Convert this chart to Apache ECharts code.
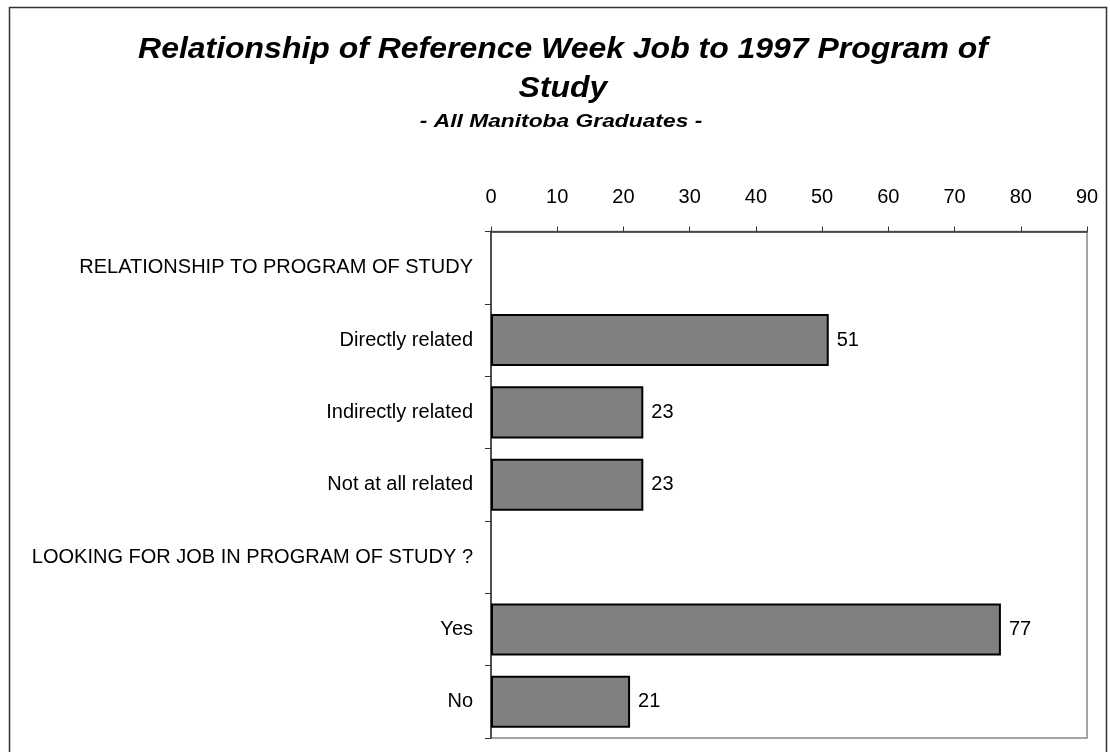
<!DOCTYPE html>
<html>
<head>
<meta charset="utf-8">
<script src="https://cdn.jsdelivr.net/npm/echarts@6/dist/echarts.min.js"></script>
<style>
html,body{margin:0;padding:0;background:#fff;}
#c{width:1110px;height:752px;}
</style>
</head>
<body>
<div id="c"></div>
<script>
var categories = [
  'RELATIONSHIP TO PROGRAM OF STUDY',
  'Directly related',
  'Indirectly related',
  'Not at all related',
  'LOOKING FOR JOB IN PROGRAM OF STUDY ?',
  'Yes',
  'No'
];
var values = [null, 51, 23, 23, null, 77, 21];
var xTicks = [0, 10, 20, 30, 40, 50, 60, 70, 80, 90];
var titleLine1 = 'Relationship of Reference Week Job to 1997 Program of';
var titleLine2 = 'Study';
var subtitle = '- All Manitoba Graduates -';

var chart = echarts.init(document.getElementById('c'), null, {renderer: 'canvas'});
var font = 'Arial, "Liberation Sans", sans-serif';
chart.setOption({
  animation: false,
  backgroundColor: '#fff',
  graphic: [
    {type: 'rect', shape: {x: 9.5, y: 7.5, width: 1097, height: 760},
     style: {fill: null, stroke: '#333', lineWidth: 1.5}, silent: true, z: 0},
    {type: 'text', x: 563, y: 50, scaleX: 1.065, style: {text: titleLine1, font: 'italic bold 30px ' + font,
     fill: '#000', textAlign: 'center', textVerticalAlign: 'middle'}},
    {type: 'text', x: 563, y: 89, scaleX: 1.065, style: {text: titleLine2, font: 'italic bold 30px ' + font,
     fill: '#000', textAlign: 'center', textVerticalAlign: 'middle'}},
    {type: 'text', x: 561, y: 122, scaleX: 1.2, style: {text: subtitle, font: 'italic bold 19px ' + font,
     fill: '#000', textAlign: 'center', textVerticalAlign: 'middle'}}
  ],
  grid: {left: 491, right: 23, top: 231.5, bottom: 14, show: true, borderColor: '#888', borderWidth: 1.5, backgroundColor: '#fff'},
  xAxis: {
    type: 'value', position: 'top', min: 0, max: 90, interval: 10,
    axisLine: {show: true, lineStyle: {color: '#333', width: 1.5}},
    axisTick: {show: true, length: 5, lineStyle: {color: '#333'}},
    splitLine: {show: false},
    axisLabel: {color: '#000', fontSize: 20, fontFamily: font, margin: 24,
      formatter: function (v) { return xTicks.indexOf(v) >= 0 ? String(v) : ''; }}
  },
  yAxis: {
    type: 'category', data: categories, inverse: true,
    axisLine: {show: true, lineStyle: {color: '#333', width: 1.5}},
    axisTick: {show: true, length: 6, lineStyle: {color: '#333'}},
    axisLabel: {color: '#000', fontSize: 20, fontFamily: font, margin: 18}
  },
  series: [{
    type: 'bar', data: values, barCategoryGap: '28%',
    itemStyle: {color: '#808080', borderColor: '#000', borderWidth: 2},
    label: {show: true, position: 'right', distance: 8, color: '#000', fontSize: 20, fontFamily: font,
      formatter: function (p) { return p.value == null ? '' : p.value; }}
  }]
});
</script>
</body>
</html>
